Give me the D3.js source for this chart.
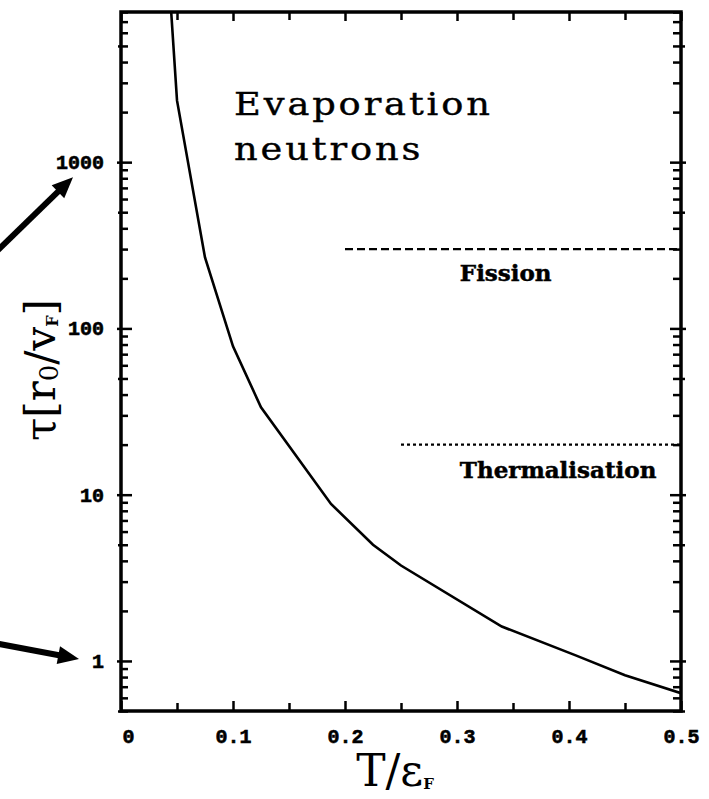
<!DOCTYPE html>
<html>
<head>
<meta charset="utf-8">
<script src="https://cdn.jsdelivr.net/npm/d3@7"></script>
<style>
  body { margin: 0; background: #fff; }
  svg { display: block; }
</style>
</head>
<body>
<div id="chart"></div>
<script>
// curve values (T/eF vs tau in r0/vF)
const tempValues = [0.04, 0.05, 0.075, 0.1, 0.125, 0.1875, 0.225, 0.25, 0.34, 0.406, 0.45, 0.5];
const tauValues = [25000, 2350, 267, 78, 33.5, 8.8, 5.0, 3.75, 1.61, 1.08, 0.82, 0.64];

// reference levels
const fissionLevel = [300];
const fissionRange = [0.2, 0.5];
const thermalLevel = [20];
const thermalRange = [0.25, 0.5];

const xTickLabels = ['0', '0.1', '0.2', '0.3', '0.4', '0.5'];
const yTickLabels = ['1', '10', '100', '1000'];

const width = 709;
const height = 799;
const plotL = 121, plotR = 681, plotT = 12, plotB = 711;

const svg = d3.select('#chart')
  .append('svg')
  .attr('width', width)
  .attr('height', height);

const xScale = d3.scaleLinear().domain([0, 0.5]).range([plotL, plotR]);
const yScale = d3.scaleLog().domain([0.5, 8000]).range([plotB, plotT]);

// tick sets
const xMajor = d3.range(0, 6).map(i => i / 10);
const xMinor = d3.range(0, 5).map(i => i / 10 + 0.05);
const yMajor = [1, 10, 100, 1000];
const yFive = [0.5, 5, 50, 500, 5000];
const yMinor = [];
[0.1, 1, 10, 100, 1000].forEach(function (d) {
  [2, 3, 4, 6, 7, 8, 9].forEach(function (m) {
    const v = d * m;
    if (v >= 0.5 && v <= 8000) { yMinor.push(v); }
  });
});

function tickAxis(axis, g, values, size) {
  g.call(axis.tickValues(values).tickSize(size).tickFormat(''));
  g.select('.domain').remove();
  g.selectAll('line').attr('stroke', '#000').attr('stroke-width', 2.5);
}

// bottom axis
tickAxis(d3.axisBottom(xScale), svg.append('g').attr('transform', 'translate(0,' + plotB + ')'), xMajor, -10);
tickAxis(d3.axisBottom(xScale), svg.append('g').attr('transform', 'translate(0,' + plotB + ')'), xMinor, -8);
// top axis
tickAxis(d3.axisTop(xScale), svg.append('g').attr('transform', 'translate(0,' + plotT + ')'), xMajor, -9);
tickAxis(d3.axisTop(xScale), svg.append('g').attr('transform', 'translate(0,' + plotT + ')'), xMinor, -8);

// left axis: inward ticks + outward stubs on majors
[[yMajor, -11], [yMajor, 4], [yFive, -7], [yFive, 3], [yMinor, -7]].forEach(function (t) {
  tickAxis(d3.axisLeft(yScale), svg.append('g').attr('transform', 'translate(' + plotL + ',0)'), t[0], t[1]);
});
// right axis
[[yMajor, -11], [yMajor, 5], [yFive, -8], [yFive, 4], [yMinor, -8]].forEach(function (t) {
  tickAxis(d3.axisRight(yScale), svg.append('g').attr('transform', 'translate(' + plotR + ',0)'), t[0], t[1]);
});

// frame
svg.append('rect')
  .attr('x', plotL).attr('y', plotT)
  .attr('width', plotR - plotL).attr('height', plotB - plotT)
  .attr('fill', 'none')
  .attr('stroke', '#000')
  .attr('stroke-width', 3.5);

// tick labels
const xLab = svg.append('g')
  .attr('transform', 'translate(0,' + plotB + ')')
  .call(d3.axisBottom(xScale).tickValues(xMajor).tickSize(0).tickPadding(18)
    .tickFormat((d, i) => xTickLabels[i]));
xLab.select('.domain').remove();
xLab.selectAll('text')
  .attr('font-family', 'Liberation Mono')
  .attr('font-weight', 'bold')
  .attr('font-size', 20)
  .attr('fill', '#000')
  .attr('stroke', '#000')
  .attr('stroke-width', 0.6)
  .attr('dx', (d, i) => i === 0 ? 7 : 0);

const yLab = svg.append('g')
  .attr('transform', 'translate(' + plotL + ',0)')
  .call(d3.axisLeft(yScale).tickValues(yMajor).tickSize(0).tickPadding(17)
    .tickFormat((d, i) => yTickLabels[i]));
yLab.select('.domain').remove();
yLab.selectAll('text')
  .attr('font-family', 'Liberation Mono')
  .attr('font-weight', 'bold')
  .attr('font-size', 20)
  .attr('fill', '#000')
  .attr('stroke', '#000')
  .attr('stroke-width', 0.6);

// clip for the curve
svg.append('clipPath').attr('id', 'plot-clip')
  .append('rect')
  .attr('x', plotL).attr('y', plotT)
  .attr('width', plotR - plotL).attr('height', plotB - plotT);

const curve = tempValues.map((t, i) => [t, tauValues[i]]);
const line = d3.line()
  .x(d => xScale(d[0]))
  .y(d => yScale(d[1]));

svg.append('path')
  .datum(curve)
  .attr('clip-path', 'url(#plot-clip)')
  .attr('d', line)
  .attr('fill', 'none')
  .attr('stroke', '#000')
  .attr('stroke-width', 2.6);

// fission (dashed) and thermalisation (dotted) levels
svg.append('path')
  .datum(fissionRange.map(t => [t, fissionLevel[0]]))
  .attr('d', line)
  .attr('stroke', '#000')
  .attr('stroke-width', 2.4)
  .attr('stroke-dasharray', '8,4');

svg.append('path')
  .datum(thermalRange.map(t => [t, thermalLevel[0]]))
  .attr('d', line)
  .attr('stroke', '#000')
  .attr('stroke-width', 2.4)
  .attr('stroke-dasharray', '3,3');

svg.append('text')
  .attr('x', xScale(0.3025)).attr('y', yScale(fissionLevel[0]) + 32)
  .attr('font-family', 'DejaVu Serif')
  .attr('font-weight', 'bold')
  .attr('font-size', 23)
  .attr('stroke', '#000')
  .attr('stroke-width', 0.5)
  .text('Fission');

svg.append('text')
  .attr('x', xScale(0.3025)).attr('y', yScale(thermalLevel[0]) + 33)
  .attr('font-family', 'DejaVu Serif')
  .attr('font-weight', 'bold')
  .attr('font-size', 23)
  .attr('stroke', '#000')
  .attr('stroke-width', 0.5)
  .text('Thermalisation');

// big label (wide typewriter-like serif)
const evap = svg.append('text')
  .attr('transform', 'translate(234,0) scale(1.15,1)')
  .attr('font-family', 'DejaVu Serif')
  .attr('font-size', 32)
  .attr('letter-spacing', 2.5)
  .attr('fill', '#000')
  .attr('stroke', '#000')
  .attr('stroke-width', 0.4);
evap.append('tspan').attr('x', 0).attr('y', 115).text('Evaporation');
evap.append('tspan').attr('x', 0).attr('y', 160).text('neutrons');

// axis titles
const xTitle = svg.append('text')
  .attr('x', 395).attr('y', 786)
  .attr('text-anchor', 'middle')
  .attr('font-family', 'DejaVu Serif')
  .attr('font-size', 44)
  .attr('fill', '#000');
xTitle.append('tspan').text('T/\u03b5');
xTitle.append('tspan')
  .attr('font-size', 15)
  .attr('font-weight', 'bold')
  .attr('dy', 3)
  .text('F');

const yTitle = svg.append('text')
  .attr('transform', 'translate(55,370) rotate(-90)')
  .attr('text-anchor', 'middle')
  .attr('font-family', 'DejaVu Serif')
  .attr('font-size', 42)
  .attr('fill', '#000');
yTitle.append('tspan').text('\u03c4[r');
yTitle.append('tspan').attr('font-size', 26).attr('dy', 3).text('0');
yTitle.append('tspan').attr('dy', -3).text('/v');
yTitle.append('tspan').attr('font-size', 16).attr('font-weight', 'bold').attr('dy', 3).text('F');
yTitle.append('tspan').attr('dy', -3).text(']');

// annotation arrows pointing at the 1000 and 1 labels
function arrow(x1, y1, x2, y2) {
  const a = Math.atan2(y2 - y1, x2 - x1);
  const len = 21, half = 9;
  const bx = x2 - len * Math.cos(a), by = y2 - len * Math.sin(a);
  svg.append('line')
    .attr('x1', x1).attr('y1', y1)
    .attr('x2', bx + 2 * Math.cos(a)).attr('y2', by + 2 * Math.sin(a))
    .attr('stroke', '#000')
    .attr('stroke-width', 6);
  svg.append('polygon')
    .attr('points', [
      [x2, y2],
      [bx - half * Math.sin(a), by + half * Math.cos(a)],
      [bx + half * Math.sin(a), by - half * Math.cos(a)]
    ].map(p => p.join(',')).join(' '))
    .attr('fill', '#000');
}
arrow(-6, 254, 73, yScale(1000) + 15);
arrow(-6, 643, 79, yScale(1) - 2);
</script>
</body>
</html>
